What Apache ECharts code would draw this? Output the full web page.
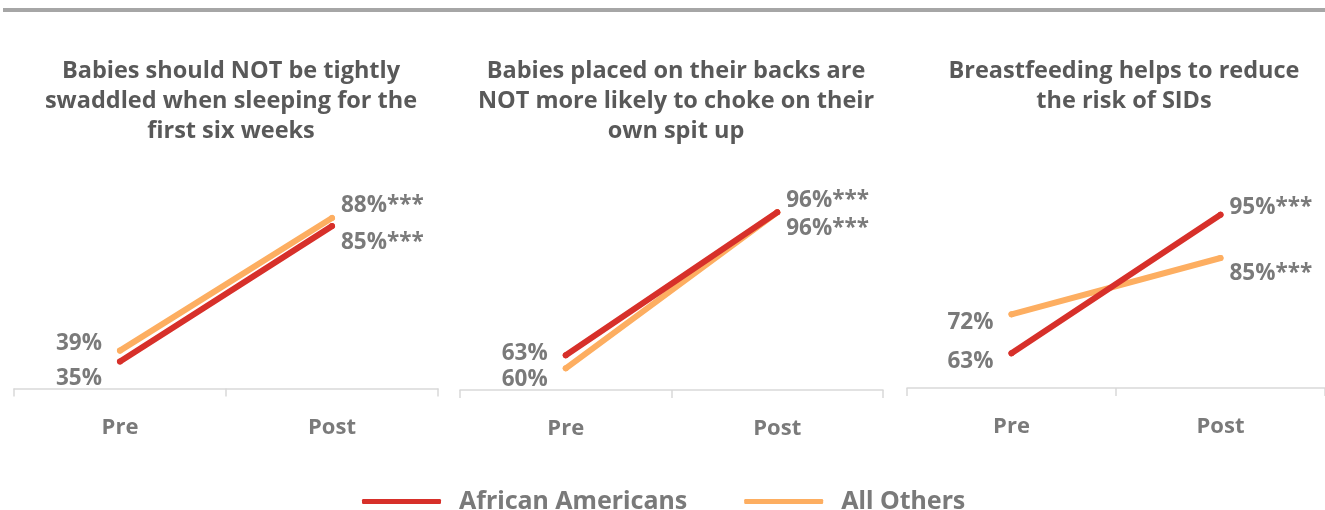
<!DOCTYPE html>
<html><head><meta charset="utf-8">
<script src="https://cdn.jsdelivr.net/npm/echarts@6/dist/echarts.min.js"></script>
<style>html,body{margin:0;padding:0;background:#fff}#c{width:1325px;height:510px}</style>
</head><body><div id="c"></div>
<script>
// ---- data ----
const categories = ['Pre', 'Post'];
const panelTitles = [
  'Babies should NOT be tightly\nswaddled when sleeping for the\nfirst six weeks',
  'Babies placed on their backs are\nNOT more likely to choke on their\nown spit up',
  'Breastfeeding helps to reduce\nthe risk of SIDs'
];
const seriesNames = ['African Americans', 'All Others'];
const africanAmericans = [[35, 85], [63, 96], [63, 95]];
const allOthers = [[39, 88], [60, 96], [72, 85]];
const postSuffix = '***';

// ---- layout / style ----
const colors = ['#d7302a', '#fdae61'];
const grids = [
  {left: 14, width: 424, top: 185.5, height: 203, min: 25, max: 100, cx: 226},
  {left: 460, width: 423, top: 195, height: 195, min: 55, max: 100, cx: 671},
  {left: 907, width: 424, top: 193, height: 195, min: 55, max: 100, cx: 1119}
];
// label vertical offsets [pre, post] per panel per series
const labelDy = [
  [[17, 16], [-7, -12]],
  [[-2, -12], [11, 16]],
  [[8, -7], [8, 16]]
];
const font = '"Open Sans", sans-serif';
const labelColor = '#7a7a7a';

const chart = echarts.init(document.getElementById('c'));
const option = {
  animation: false,
  grid: grids.map(g => ({left: g.left, width: g.width, top: g.top, height: g.height})),
  xAxis: grids.map((g, i) => ({
    type: 'category', gridIndex: i, data: categories, boundaryGap: true,
    axisLine: {lineStyle: {color: '#d9d9d9', width: 1.5}},
    axisTick: {show: true, length: 8, lineStyle: {color: '#d9d9d9', width: 1.5}},
    axisLabel: {color: '#7a7a7a', fontFamily: font, fontWeight: 'bold', fontSize: 22, margin: 28}
  })),
  yAxis: grids.map((g, i) => ({
    type: 'value', gridIndex: i, min: g.min, max: g.max, show: false,
    splitLine: {show: false}
  })),
  title: panelTitles.map((t, i) => ({
    text: t, left: grids[i].cx, top: 51, textAlign: 'center',
    textStyle: {color: '#595959', fontFamily: font, fontWeight: 'bold', fontSize: 23.5, lineHeight: 30}
  })),
  legend: {
    data: seriesNames, top: 484, left: 357, itemWidth: 79, itemHeight: 5, itemGap: 57,
    icon: 'roundRect',
    textStyle: {color: '#7a7a7a', fontFamily: '"Noto Sans", sans-serif', fontWeight: 'bold', fontSize: 25, padding: [0, 0, 0, 13]}
  },
  graphic: [{type: 'rect', shape: {x: 3, y: 8, width: 1322, height: 4}, style: {fill: '#a6a6a6'}}],
  series: []
};
[africanAmericans, allOthers].forEach((vals, s) => {
  vals.forEach((pair, p) => {
    option.series.push({
      type: 'line', name: seriesNames[s], xAxisIndex: p, yAxisIndex: p,
      color: colors[s], symbol: 'circle', symbolSize: 6, showSymbol: true, z: s === 0 ? 3 : 2,
      itemStyle: {color: colors[s]},
      lineStyle: {width: 6, color: colors[s], cap: 'round'},
      emphasis: {disabled: true},
      data: pair.map((v, k) => ({
        value: v,
        label: {
          show: true,
          position: k === 0 ? 'left' : 'right',
          distance: k === 0 ? 15 : 6,
          offset: [0, labelDy[p][s][k]],
          formatter: '{c}%' + (k === 1 ? postSuffix : ''),
          color: labelColor, fontFamily: font, fontWeight: 'bold', fontSize: 22.5
        }
      }))
    });
  });
});
chart.setOption(option);
</script></body></html>
